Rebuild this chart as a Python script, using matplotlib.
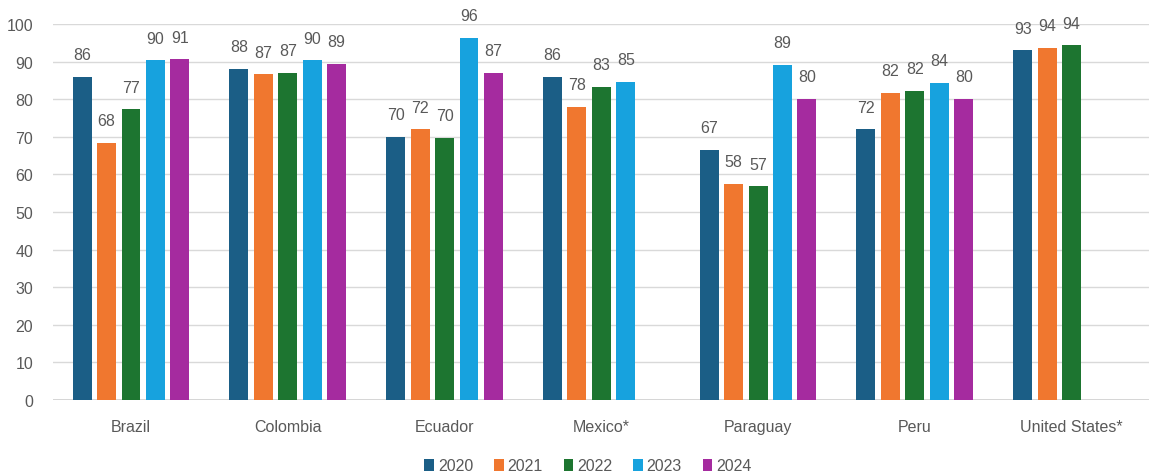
import numpy as np
import matplotlib
matplotlib.use("Agg")
import matplotlib.pyplot as plt
from matplotlib.patches import Patch

countries = ["Brazil", "Colombia", "Ecuador", "Mexico*", "Paraguay", "Peru", "United States*"]
years = ["2020", "2021", "2022", "2023", "2024"]
v2020 = [86, 88, 70, 86, 66.6, 72, 93]
v2021 = [68.4, 86.6, 72, 78, 57.5, 81.6, 93.6]
v2022 = [77.3, 87, 69.8, 83.2, 56.8, 82.3, 94.3]
v2023 = [90.3, 90.3, 96.3, 84.7, 89.1, 84.4, np.nan]
v2024 = [90.6, 89.4, 87, np.nan, 80.1, 80.1, np.nan]
series = [v2020, v2021, v2022, v2023, v2024]
colors = ["#1B5E86", "#F0772F", "#1D7530", "#17A2DE", "#A52B9F"]
yticks = [0, 10, 20, 30, 40, 50, 60, 70, 80, 90, 100]

fig = plt.figure(figsize=(11.49, 4.77), dpi=100)
ax = fig.add_axes([52.6 / 1149, 76 / 477, (1150 - 52.6) / 1149, (401 - 25) / 477])

x = np.arange(len(countries))
step = 0.156
width = 0.121
label_font = ["Liberation Sans", "DejaVu Sans"]
tick_font = ["Liberation Sans Narrow", "Liberation Sans", "DejaVu Sans"]

for i, (vals, c) in enumerate(zip(series, colors)):
    xs = x + (i - 2) * step
    for xi, v in zip(xs, vals):
        if np.isnan(v):
            continue
        ax.bar(xi, v, width=width, color=c, zorder=3)
        ax.annotate(f"{v:.0f}", (xi, v), xytext=(0, 16), textcoords="offset points",
                    ha="center", va="center", fontsize=11.5, color="#595959",
                    family=label_font, clip_on=False, annotation_clip=False)

ax.set_xlim(-0.5, len(countries) - 0.5)
ax.set_ylim(0, 100)
ax.set_yticks(yticks)
ax.set_yticklabels([str(t) for t in yticks], family=tick_font, fontsize=11.5, color="#595959")
ax.set_xticks(x)
ax.set_xticklabels(countries, family=tick_font, fontsize=11.5, color="#595959")
ax.tick_params(axis="y", length=0, pad=14)
ax.tick_params(axis="x", length=0, pad=14)
ax.yaxis.grid(True, color="#D9D9D9", linewidth=1.0, zorder=0)
ax.set_axisbelow(True)
for s in ax.spines.values():
    s.set_visible(False)
ax.axhline(0, color="#D0D0D0", linewidth=1.2, zorder=2)

handles = [Patch(facecolor=c, label=y) for c, y in zip(colors, years)]
fig.legend(handles=handles, loc="center", bbox_to_anchor=(588 / 1149, 1 - 467 / 477),
           ncol=5, frameon=False, fontsize=11.5, handlelength=0.6, handleheight=0.7,
           handletextpad=0.25, columnspacing=1.3, prop={"family": label_font, "size": 11.5},
           labelcolor="#595959")

fig.savefig("out.png", dpi=100)
